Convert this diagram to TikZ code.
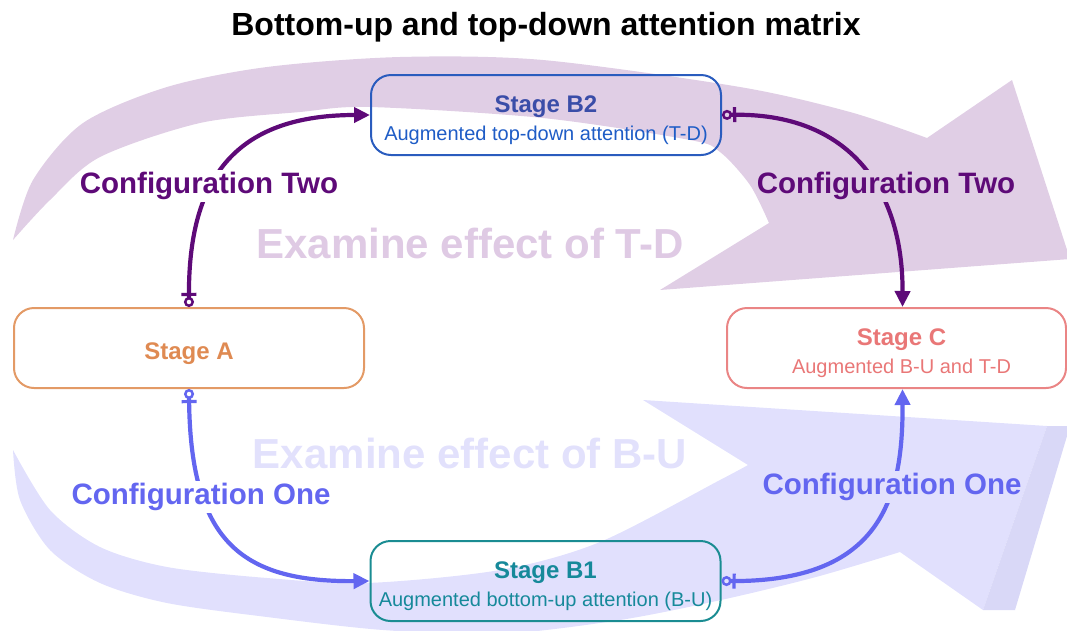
\documentclass[tikz,border=0pt]{standalone}
\usepackage{fontspec}
\setmainfont{Liberation Sans}
\usetikzlibrary{arrows.meta}

\definecolor{tdband}{HTML}{E0CEE5}
\definecolor{tdtext}{HTML}{DFCAE4}
\definecolor{buband}{HTML}{E1E0FD}
\definecolor{buside}{HTML}{D9D8F7}
\definecolor{butext}{HTML}{E2E1FC}
\definecolor{tdline}{HTML}{5E0A78}
\definecolor{buline}{HTML}{6366F0}
\definecolor{aline}{HTML}{E39A66}
\definecolor{atext}{HTML}{DF8A52}
\definecolor{btwoline}{HTML}{2A5CBE}
\definecolor{btwotitle}{HTML}{3A4DA8}
\definecolor{btwosub}{HTML}{1E5CC6}
\definecolor{boneline}{HTML}{1A8C92}
\definecolor{bonetext}{HTML}{16899A}
\definecolor{cline}{HTML}{EA8585}
\definecolor{ctext}{HTML}{E97777}

\newcommand{\stagestrut}{\rule{0pt}{27.5pt}}
\tikzset{
  stagebox/.style={draw, rounded corners=20pt, line width=2pt, minimum width=350pt,
    minimum height=80pt, align=center, font=\fontsize{20}{28}\selectfont},
  cfglabel/.style={font=\bfseries\fontsize{29.5}{32}\selectfont, inner sep=2pt},
  link/.style={line width=4.2pt,
    {Circle[open,length=10pt,width=10pt,line width=2.5pt] Bar[width=15pt,line width=3.2pt,sep=1pt]}-{Triangle[length=16pt,width=15pt]}},
}

\begin{document}
\begin{tikzpicture}[x=1pt,y=-1pt,line join=round]
\useasboundingbox (0,0) rectangle (1067,630);
\clip (0,0) rectangle (1067,630);
% background arrows
\fill[tdband] plot[smooth] coordinates {(13,240) (33,180) (83,123) (167,87) (267,67) (400,57) (543,60) (740,87) (850,112) (927,138)}
  -- (1012,80) -- (1070,259) -- (660,290)
  -- plot[smooth] coordinates {(769,223) (750,185) (720,152) (690,140) (543,118) (370,107) (300,112) (200,123) (100,157) (50,200) (13,240)} -- cycle;
\fill[buband] plot[smooth] coordinates {(13,450) (20,500) (50,550) (100,583) (167,603) (267,617) (383,630) (500,634) (620,620) (721,600) (816,577) (900,552)}
  -- (983,610) -- (1047,426) -- (643,400)
  -- plot[smooth] coordinates {(748,465) (720,480) (600,542) (500,570) (367,583) (267,578) (167,567) (100,547) (50,510) (13,450)} -- cycle;
\fill[buside] (1047,426) -- (1070,426) -- (1015,610) -- (983,610) -- cycle;
\node[font=\bfseries\fontsize{42}{46}\selectfont, text=tdtext] (effTD) at (470,243) {Examine effect of T-D};
\node[font=\bfseries\fontsize{42}{46}\selectfont, text=butext] (effBU) at (470,453) {Examine effect of B-U};
% title
\node[font=\bfseries\fontsize{32}{36}\selectfont] (title) at (546,27) {Bottom-up and top-down attention matrix};
% stages
\node[stagebox, draw=aline, text=atext] (stageA) at (189,348) {\stagestrut\bfseries\fontsize{24}{28}\selectfont Stage A};
\node[stagebox, draw=btwoline, text=btwosub] (stageB2) at (546,115)
  {\stagestrut{\color{btwotitle}\bfseries\fontsize{24}{28}\selectfont Stage B2}\\Augmented top-down attention (T-D)};
\node[stagebox, draw=boneline, text=bonetext] (stageB1) at (545.5,581)
  {\stagestrut{\bfseries\fontsize{24}{28}\selectfont Stage B1}\\Augmented bottom-up attention (B-U)};
\node[stagebox, draw=cline, text=ctext, minimum width=339pt] (stageC) at (896.5,348)
  {\stagestrut\hspace*{10pt}{\bfseries\fontsize{24}{28}\selectfont Stage C}\\\hspace*{10pt}Augmented B-U and T-D};
% labels
\node[cfglabel, text=tdline] (cfgTwoL) at (209,186) {Configuration Two};
\node[cfglabel, text=tdline] (cfgTwoR) at (886,186) {Configuration Two};
\node[cfglabel, text=buline] (cfgOneL) at (201,497) {Configuration One};
\node[cfglabel, text=buline] (cfgOneR) at (892,487) {Configuration One};
% connectors, broken at the labels
\begin{scope}[even odd rule]
  \clip (0,0) rectangle (1067,630)
    (cfgTwoL.south west) rectangle (cfgTwoL.north east)
    (cfgTwoR.south west) rectangle (cfgTwoR.north east)
    (cfgOneL.south west) rectangle (cfgOneL.north east)
    (cfgOneR.south west) rectangle (cfgOneR.north east);
  \draw[link, tdline] (stageA.north) .. controls (188,190) and (225,115) .. (stageB2.west);
  \draw[link, tdline] (stageB2.east) .. controls (850,112) and (903,190) .. ([xshift=6pt]stageC.north);
  \draw[link, buline] (stageA.south) .. controls (190,540) and (240,582) .. (stageB1.west);
  \draw[link, buline] (stageB1.east) .. controls (880,582) and (903,500) .. ([xshift=6pt]stageC.south);
\end{scope}
\end{tikzpicture}
\end{document}
